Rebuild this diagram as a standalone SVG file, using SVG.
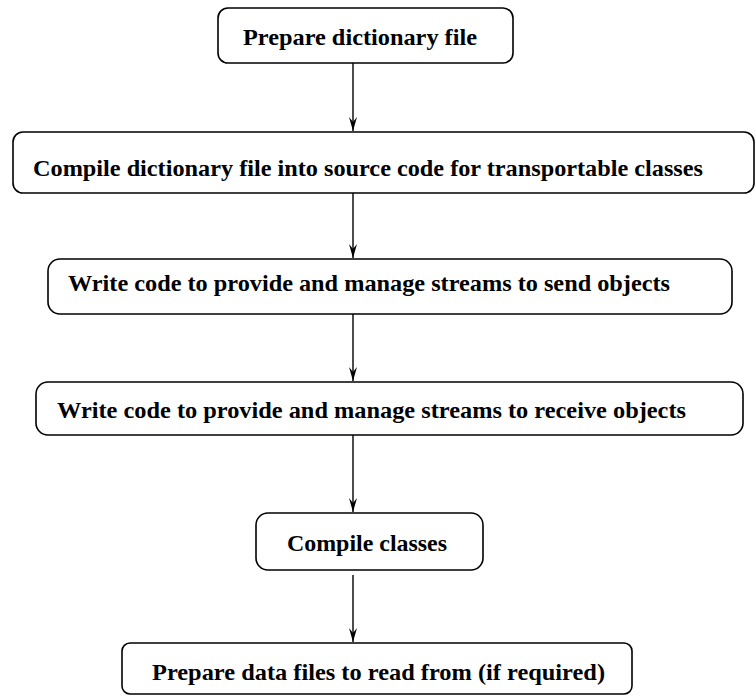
<svg xmlns="http://www.w3.org/2000/svg" width="756" height="696" viewBox="0 0 756 696">
<style>
.box{fill:#fff;stroke:#000;stroke-width:1.6}
.lbl{font-family:"Liberation Serif","Times New Roman",serif;font-weight:bold;font-size:24px;fill:#000}
.conn{stroke:#000;stroke-width:1.4;fill:none}
</style>
<defs>
<marker id="ah" viewBox="0 0 14 10" refX="14" refY="5" markerWidth="14" markerHeight="10" markerUnits="userSpaceOnUse" orient="auto">
<path d="M0,1 L5,5 L0,9 L14,5 Z" fill="#000"/>
</marker>
</defs>
<rect width="756" height="696" fill="#fff"/>
<g id="connectors">
<line class="conn" x1="353" y1="63" x2="353" y2="131" marker-end="url(#ah)"/>
<line class="conn" x1="353" y1="193" x2="353" y2="258" marker-end="url(#ah)"/>
<line class="conn" x1="353" y1="314" x2="353" y2="381" marker-end="url(#ah)"/>
<line class="conn" x1="353" y1="435" x2="353" y2="512" marker-end="url(#ah)"/>
<line class="conn" x1="353" y1="575" x2="353" y2="642" marker-end="url(#ah)"/>
</g>
<g id="n1">
<rect class="box" x="218" y="8" width="295" height="55" rx="10"/>
<text class="lbl" x="243" y="45" textLength="234" lengthAdjust="spacingAndGlyphs">Prepare dictionary file</text>
</g>
<g id="n2">
<rect class="box" x="13" y="132" width="741" height="61" rx="10"/>
<text class="lbl" x="33" y="176" textLength="670" lengthAdjust="spacingAndGlyphs">Compile dictionary file into source code for transportable classes</text>
</g>
<g id="n3">
<rect class="box" x="48" y="259" width="684" height="55" rx="12"/>
<text class="lbl" x="68" y="291" textLength="602" lengthAdjust="spacingAndGlyphs">Write code to provide and manage streams to send objects</text>
</g>
<g id="n4">
<rect class="box" x="36" y="382" width="707" height="53" rx="12"/>
<text class="lbl" x="57" y="418" textLength="629" lengthAdjust="spacingAndGlyphs">Write code to provide and manage streams to receive objects</text>
</g>
<g id="n5">
<rect class="box" x="256" y="513" width="227" height="57" rx="12"/>
<text class="lbl" x="287" y="551" textLength="160" lengthAdjust="spacingAndGlyphs">Compile classes</text>
</g>
<g id="n6">
<rect class="box" x="122" y="643" width="510" height="51" rx="8"/>
<text class="lbl" x="152" y="680" textLength="453" lengthAdjust="spacingAndGlyphs">Prepare data files to read from (if required)</text>
</g>
</svg>
